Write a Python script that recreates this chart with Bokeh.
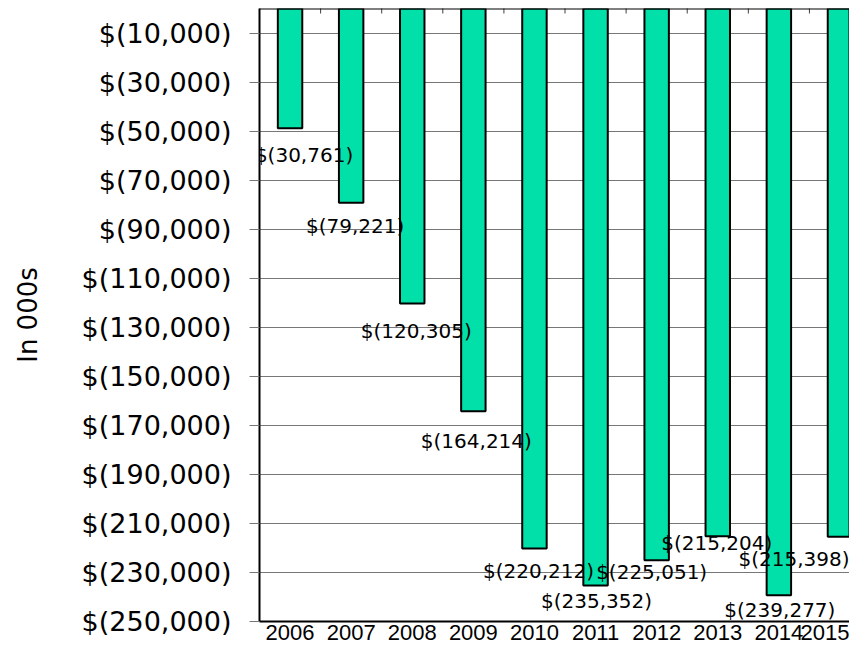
import math
from bokeh.plotting import figure
from bokeh.models import ColumnDataSource, Range1d, FixedTicker, LabelSet, Span
from bokeh.core.properties import value
from bokeh.embed import file_html
from bokeh.resources import INLINE

# ---- data ----
years = ["2006", "2007", "2008", "2009", "2010", "2011", "2012", "2013", "2014", "2015"]
bar_values = [-48800, -79221, -120305, -164214, -220212, -235352, -225051, -215204, -239277, -215398]
label_values = [-30761, -79221, -120305, -164214, -220212, -235352, -225051, -215204, -239277, -215398]
y_ticks = [-10000, -30000, -50000, -70000, -90000, -110000, -130000, -150000, -170000,
           -190000, -210000, -230000, -250000]
y_tick_labels = ["$(10,000)", "$(30,000)", "$(50,000)", "$(70,000)", "$(90,000)", "$(110,000)",
                 "$(130,000)", "$(150,000)", "$(170,000)", "$(190,000)", "$(210,000)",
                 "$(230,000)", "$(250,000)"]

# ---- label layout (pixel nudges) ----
label_dx = [14, 4, 4, 3, 4, 1, -5, -1, 1, -46]
label_dy = [27, 23, 28, 30, 23, 15, 12, 7, 15, 22]

n = len(years)
xs = [i + 0.5 for i in range(n)]
bounds = [float(i) for i in range(n + 1)]

src = ColumnDataSource(dict(
    x=xs,
    bottom=bar_values,
    ly=bar_values,
    text=["$({:,})".format(-v) for v in label_values],
    dx=label_dx,
    dy=[-d for d in label_dy],
))
tick_src = ColumnDataSource(dict(x=bounds, y=[0] * len(bounds)))

p = figure(width=849, height=645, output_backend="svg", toolbar_location=None,
           x_range=Range1d(0, 9.656), y_range=Range1d(-250000, 0),
           min_border_left=259, min_border_right=0, min_border_top=8, min_border_bottom=24)
p.outline_line_color = None
p.background_fill_color = "white"
p.border_fill_color = "white"

# grid
p.xgrid.visible = False
p.ygrid.ticker = FixedTicker(ticks=y_ticks)
p.ygrid.grid_line_color = "#777777"
p.ygrid.grid_line_width = 1

p.vbar(x="x", width=0.4, top=0, bottom="bottom", source=src,
       fill_color="#00E0A8", line_color="black", line_width=2)

# top frame line and inward ticks at category boundaries
p.add_layout(Span(location=0, dimension="width", line_color="black", line_width=2))
p.scatter(x="x", y="y", source=tick_src, marker="dash", angle=math.pi / 2, size=10,
          line_color="#404040", line_width=1)

# y axis
ya = p.yaxis[0]
ya.ticker = FixedTicker(ticks=y_ticks)
ya.major_label_overrides = {t: s for t, s in zip(y_ticks, y_tick_labels)}
ya.axis_line_color = "black"
ya.axis_line_width = 2
ya.major_tick_line_color = "#777777"
ya.major_tick_out = 10
ya.major_tick_in = 0
ya.minor_tick_line_color = None
ya.major_label_standoff = 18
ya.major_label_text_font = "DejaVu Sans"
ya.major_label_text_font_size = "27px"
ya.major_label_text_color = "black"
ya.axis_label = "In 000s"
ya.axis_label_text_font = "DejaVu Sans"
ya.axis_label_text_font_size = "26px"
ya.axis_label_text_font_style = "normal"
ya.axis_label_text_color = "black"
ya.axis_label_standoff = 36

# x axis
xa = p.xaxis[0]
xa.ticker = FixedTicker(ticks=xs)
xa.major_label_overrides = {x: y for x, y in zip(xs, years)}
xa.axis_line_color = "black"
xa.axis_line_width = 2
xa.major_tick_line_color = None
xa.major_tick_out = 0
xa.major_tick_in = 0
xa.minor_tick_line_color = None
xa.major_label_standoff = 3
xa.major_label_text_font = "Liberation Sans"
xa.major_label_text_font_size = "22px"
xa.major_label_text_color = "black"

labels = LabelSet(x="x", y="ly", text="text", source=src, x_offset="dx", y_offset="dy",
                  text_align="center", text_baseline="middle",
                  text_font=value("DejaVu Sans"), text_font_size="20px", text_color="black")
p.add_layout(labels)

open("out.html", "w").write(file_html(p, INLINE))
